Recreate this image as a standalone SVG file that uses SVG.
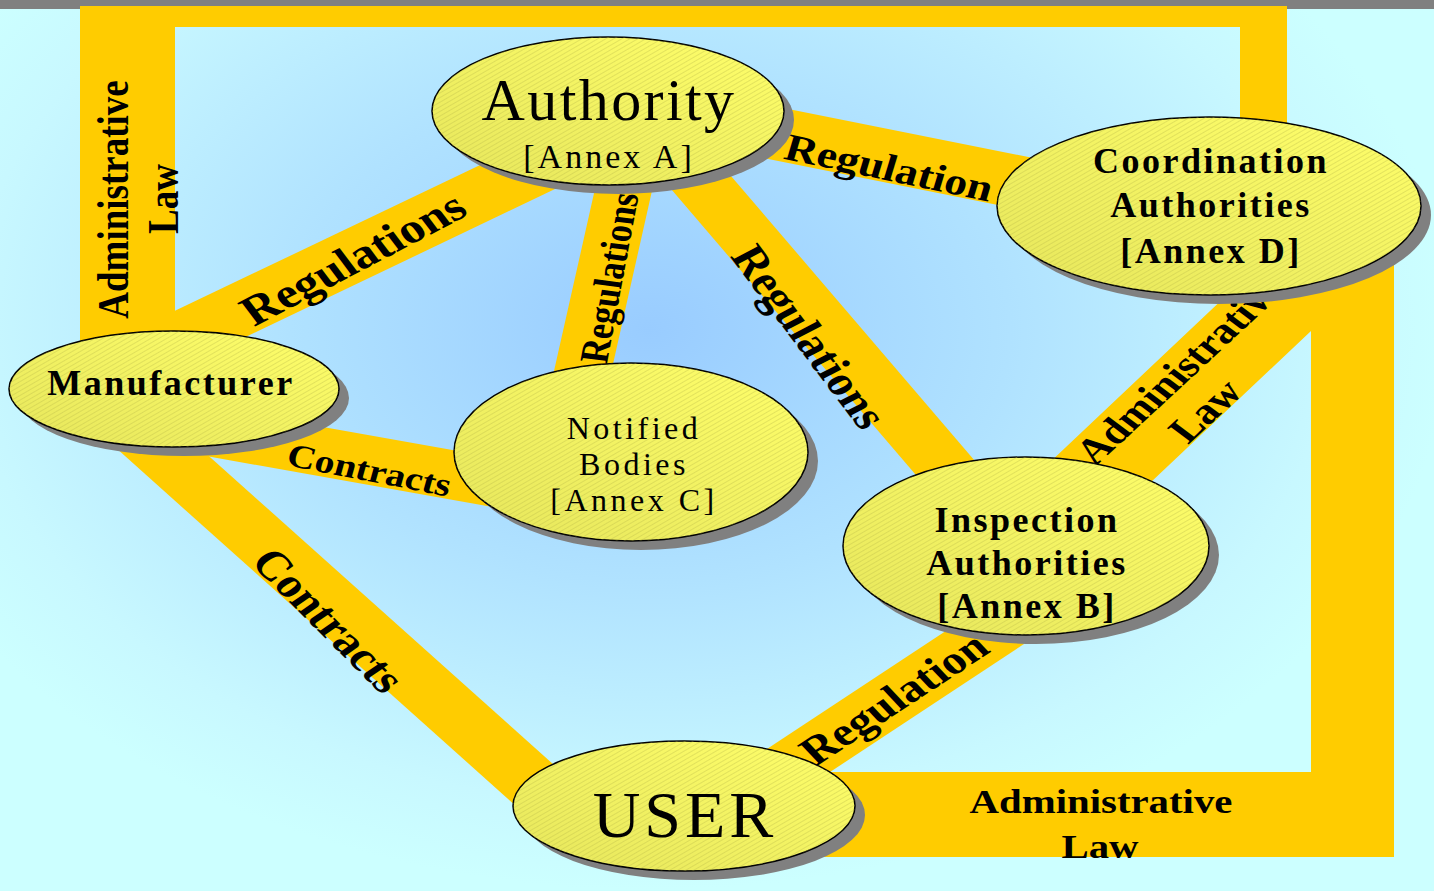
<svg xmlns="http://www.w3.org/2000/svg" width="1439" height="891" viewBox="0 0 1439 891">
<style>
.frame{fill:#FFCC00}
.band{stroke:#FFCC00;fill:none;stroke-linecap:butt}
.bl{font-family:"Liberation Serif","Times New Roman",serif;font-weight:bold;fill:#000;text-anchor:middle}
.st{text-anchor:start}
.shadow{fill:#808080}
.body{fill:url(#yel);stroke:#000;stroke-width:1.5}
.hatch{fill:url(#hatch);stroke:none}
.nb{font-family:"Liberation Serif","Times New Roman",serif;font-weight:bold;font-size:36px;letter-spacing:2.5px;text-anchor:middle;fill:#000}
.nr{font-family:"Liberation Serif","Times New Roman",serif;font-weight:normal;text-anchor:middle;fill:#000}
</style>
<defs>
<radialGradient id="bg" gradientUnits="userSpaceOnUse" cx="0" cy="0" r="1" gradientTransform="translate(650,330) scale(800,560)">
<stop offset="0" stop-color="#99CCFF"/>
<stop offset="0.45" stop-color="#B0E2FF"/>
<stop offset="0.85" stop-color="#C8F8FF"/>
<stop offset="1" stop-color="#CCFFFF"/>
</radialGradient>
<linearGradient id="yel" x1="1" y1="0" x2="0" y2="1">
<stop offset="0" stop-color="#FFFF6A"/>
<stop offset="1" stop-color="#E6E65C"/>
</linearGradient>
<pattern id="hatch" width="4" height="4" patternUnits="userSpaceOnUse" patternTransform="rotate(-30)">
<line x1="0" y1="0.5" x2="4" y2="0.5" stroke="#B8B848" stroke-opacity="0.35" stroke-width="1"/>
</pattern>
</defs>

<rect x="0" y="0" width="1439" height="891" fill="#FFFFFF"/>
<rect x="0" y="0" width="1434" height="891" fill="url(#bg)"/>
<rect x="0" y="0" width="1434" height="9" fill="#808080"/>

<g id="connectors">
<polygon class="frame" points="80,6 1287,6 1287,150 1240,150 1240,27 175,27 175,360 80,360"/>
<polygon class="frame" points="1010,500 1264,260 1394,260 1394,857 820,857 820,772 1311,772 1311,331 1132,500"/>
<line class="band" x1="150" y1="352.7" x2="570" y2="152" stroke-width="54"/>
<line class="band" x1="700" y1="118.4" x2="1100" y2="198.4" stroke-width="53"/>
<line class="band" x1="630.2" y1="160" x2="575.3" y2="404" stroke-width="56"/>
<line class="band" x1="680" y1="158" x2="990" y2="520" stroke-width="54"/>
<line class="band" x1="170" y1="424.7" x2="520" y2="487" stroke-width="49"/>
<line class="band" x1="120" y1="414" x2="540" y2="790" stroke-width="56"/>
<line class="band" x1="750" y1="792.5" x2="1030" y2="607.7" stroke-width="54"/>

<text class="bl" font-size="42" transform="translate(362,270.5) scale(1.2,1) rotate(-32.1)">Regulations</text>
<text class="bl" font-size="38" transform="translate(885.5,180) scale(1.2,1) rotate(14.1)">Regulation</text>
<text class="bl" font-size="34" transform="translate(622.7,279.5) scale(1.2,1) rotate(-81.1)">Regulations</text>
<text class="bl" font-size="41" transform="translate(795.5,344) scale(1.2,1) rotate(57.9)">Regulations</text>
<text class="bl st" font-size="40" transform="translate(815.7,766.7) scale(1.2,1) rotate(-38.2)">Regulation</text>
<text class="bl" font-size="33" transform="translate(366.4,480.8) scale(1.2,1) rotate(13.1)">Contracts</text>
<text class="bl" font-size="41" transform="translate(316,629) scale(1.2,1) rotate(50.2)">Contracts</text>

<text class="bl" font-size="37" transform="translate(128,199.5) scale(1.2,1) rotate(-90)">Administrative</text>
<text class="bl" font-size="37" transform="translate(178,199) scale(1.2,1) rotate(-90)">Law</text>
<text class="bl" font-size="34" transform="translate(1101,813) scale(1.2,1)">Administrative</text>
<text class="bl" font-size="34" transform="translate(1100,858) scale(1.2,1)">Law</text>
<text class="bl st" font-size="37" transform="translate(1095,467) scale(1.2,1) rotate(-48)">Administrative</text>
<text class="bl st" font-size="37" transform="translate(1188,445) scale(1.2,1) rotate(-48)">Law</text>
</g>

<g id="authority">
<ellipse class="shadow" cx="618" cy="120" rx="176" ry="74"/>
<ellipse class="body" cx="608" cy="111" rx="176" ry="74"/>
<ellipse class="hatch" cx="608" cy="111" rx="176" ry="74"/>
<text class="nr" x="609" y="120" font-size="60" letter-spacing="2.4">Authority</text>
<text class="nr" x="609" y="168" font-size="34" letter-spacing="3">[Annex A]</text>
</g>

<g id="coordination">
<ellipse class="shadow" cx="1219" cy="215" rx="212" ry="89"/>
<ellipse class="body" cx="1209" cy="206" rx="212" ry="89"/>
<ellipse class="hatch" cx="1209" cy="206" rx="212" ry="89"/>
<text class="nb" x="1211" y="173">Coordination</text>
<text class="nb" x="1211" y="217">Authorities</text>
<text class="nb" x="1211" y="263">[Annex D]</text>
</g>

<g id="manufacturer">
<ellipse class="shadow" cx="184" cy="398" rx="165" ry="58"/>
<ellipse class="body" cx="174" cy="389" rx="165" ry="58"/>
<ellipse class="hatch" cx="174" cy="389" rx="165" ry="58"/>
<text class="nb" x="171" y="395">Manufacturer</text>
</g>

<g id="notified-bodies">
<ellipse class="shadow" cx="641" cy="461" rx="177" ry="89"/>
<ellipse class="body" cx="631" cy="452" rx="177" ry="89"/>
<ellipse class="hatch" cx="631" cy="452" rx="177" ry="89"/>
<text class="nr" x="634" y="439" font-size="32" letter-spacing="3.5">Notified</text>
<text class="nr" x="634" y="475" font-size="32" letter-spacing="3.5">Bodies</text>
<text class="nr" x="634" y="511" font-size="32" letter-spacing="3.5">[Annex C]</text>
</g>

<g id="inspection">
<ellipse class="shadow" cx="1036" cy="555" rx="183" ry="89"/>
<ellipse class="body" cx="1026" cy="546" rx="183" ry="89"/>
<ellipse class="hatch" cx="1026" cy="546" rx="183" ry="89"/>
<text class="nb" x="1027" y="532">Inspection</text>
<text class="nb" x="1027" y="575">Authorities</text>
<text class="nb" x="1027" y="618">[Annex B]</text>
</g>

<g id="user">
<ellipse class="shadow" cx="694" cy="815" rx="171" ry="65"/>
<ellipse class="body" cx="684" cy="806" rx="171" ry="65"/>
<ellipse class="hatch" cx="684" cy="806" rx="171" ry="65"/>
<text class="nr" x="685" y="837" font-size="66" letter-spacing="4">USER</text>
</g>
</svg>
